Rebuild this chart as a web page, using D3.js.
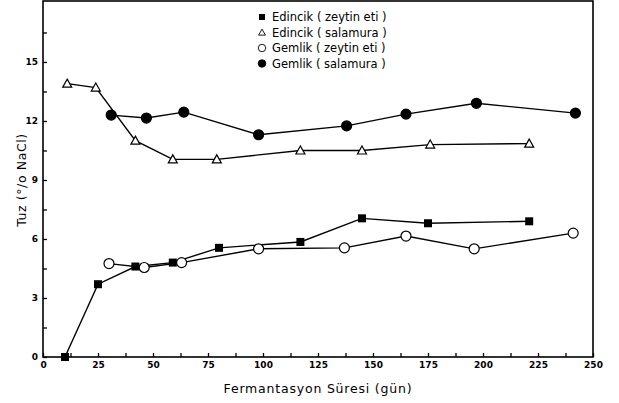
<!DOCTYPE html>
<html>
<head>
<meta charset="utf-8">
<script src="https://cdn.jsdelivr.net/npm/d3@7"></script>
<style>
  body { margin: 0; background: #fff; }
  text { font-family: "DejaVu Sans", sans-serif; fill: #000; }
  .tick text { font-size: 9px; font-weight: bold; }
</style>
</head>
<body>
<svg id="chart" width="619" height="403"></svg>
<script>
// Fermantasyon süresi (gün) ve tuz (% NaCl) degerleri
var edincikEtiDays = [10, 25, 42, 59, 80, 117, 145, 175, 221];
var edincikEtiTuz = [0, 3.7, 4.6, 4.8, 5.55, 5.85, 7.05, 6.8, 6.9];

var edincikSalDays = [11, 24, 42, 59, 79, 117, 145, 176, 221];
var edincikSalTuz = [13.9, 13.7, 11.0, 10.05, 10.05, 10.5, 10.5, 10.8, 10.85];

var gemlikEtiDays = [30, 46, 63, 98, 137, 165, 196, 241];
var gemlikEtiTuz = [4.75, 4.55, 4.8, 5.5, 5.55, 6.15, 5.5, 6.3];

var gemlikSalDays = [31, 47, 64, 98, 138, 165, 197, 242];
var gemlikSalTuz = [12.3, 12.15, 12.45, 11.3, 11.75, 12.35, 12.9, 12.4];

var seriesNames = ['Edincik ( zeytin eti )', 'Edincik ( salamura )', 'Gemlik ( zeytin eti )', 'Gemlik ( salamura )'];
var xTicks = [0, 25, 50, 75, 100, 125, 150, 175, 200, 225, 250];
var yTicks = [0, 3, 6, 9, 12, 15];

var series = [
  { name: seriesNames[0], days: edincikEtiDays, tuz: edincikEtiTuz, shape: 'square', filled: true },
  { name: seriesNames[1], days: edincikSalDays, tuz: edincikSalTuz, shape: 'triangle', filled: false },
  { name: seriesNames[2], days: gemlikEtiDays, tuz: gemlikEtiTuz, shape: 'circle', filled: false },
  { name: seriesNames[3], days: gemlikSalDays, tuz: gemlikSalTuz, shape: 'circle', filled: true }
];

var margin = { left: 43, right: 26, top: 1, bottom: 46 };
var width = 619 - margin.left - margin.right;
var height = 403 - margin.top - margin.bottom;

var svg = d3.select('#chart');
var g = svg.append('g').attr('transform', 'translate(' + margin.left + ',' + margin.top + ')');

var x = d3.scaleLinear().domain([0, 250]).range([0, width]);
var y = d3.scaleLinear().domain([0, 18.1]).range([height, 0]);

// frame
g.append('rect')
  .attr('width', width)
  .attr('height', height)
  .attr('fill', 'none')
  .attr('stroke', '#000')
  .attr('stroke-width', 1.6);

// minor ticks
g.append('g')
  .attr('transform', 'translate(0,' + height + ')')
  .call(d3.axisTop(x).tickValues(d3.range(0, 251, 12.5)).tickSize(4).tickFormat(''))
  .call(function (s) { s.select('.domain').remove(); s.selectAll('line').attr('stroke-width', 1.3); });

g.append('g')
  .call(d3.axisRight(y).tickValues(d3.range(0, 18, 1.5)).tickSize(4).tickFormat(''))
  .call(function (s) { s.select('.domain').remove(); s.selectAll('line').attr('stroke-width', 1.3); });

// tick labels
var xAxis = g.append('g')
  .attr('transform', 'translate(0,' + height + ')')
  .call(d3.axisBottom(x).tickValues(xTicks).tickSize(0).tickPadding(5));
xAxis.select('.domain').remove();

var yAxis = g.append('g')
  .call(d3.axisLeft(y).tickValues(yTicks).tickSize(0).tickPadding(5));
yAxis.select('.domain').remove();

// axis titles
svg.append('text')
  .attr('x', 318)
  .attr('y', 393)
  .attr('text-anchor', 'middle')
  .style('font-size', '12.5px')
  .style('letter-spacing', '0.8px')
  .text('Fermantasyon Süresi (gün)');

svg.append('text')
  .attr('transform', 'translate(26,180) rotate(-90)')
  .attr('text-anchor', 'middle')
  .style('font-size', '12.5px')
  .style('letter-spacing', '0.6px')
  .text('Tuz (°/o NaCl)');

function drawMarker(sel, s) {
  if (s.shape === 'square') {
    sel.append('rect')
      .attr('x', -4).attr('y', -4).attr('width', 8).attr('height', 8)
      .attr('fill', '#000');
  } else if (s.shape === 'triangle') {
    sel.append('path')
      .attr('d', 'M0,-4.5L4.5,3.5L-4.5,3.5Z')
      .attr('fill', '#fff').attr('stroke', '#000').attr('stroke-width', 1.2);
  } else {
    sel.append('circle')
      .attr('r', 5)
      .attr('fill', s.filled ? '#000' : '#fff')
      .attr('stroke', '#000').attr('stroke-width', 1.2);
  }
}

var line = d3.line()
  .x(function (d) { return x(d[0]); })
  .y(function (d) { return y(d[1]); });

series.forEach(function (s) {
  var pts = s.days.map(function (d, i) { return [d, s.tuz[i]]; });
  g.append('path')
    .datum(pts)
    .attr('d', line)
    .attr('fill', 'none')
    .attr('stroke', '#000')
    .attr('stroke-width', 1.4);
});

series.forEach(function (s) {
  var pts = s.days.map(function (d, i) { return [d, s.tuz[i]]; });
  g.selectAll(null)
    .data(pts)
    .enter().append('g')
    .attr('transform', function (d) { return 'translate(' + x(d[0]) + ',' + y(d[1]) + ')'; })
    .each(function () { drawMarker(d3.select(this), s); });
});

// legend
var legend = svg.append('g').attr('transform', 'translate(262,17)');
series.forEach(function (s, i) {
  var row = legend.append('g').attr('transform', 'translate(0,' + (i * 15.5) + ')');
  var m = row.append('g').attr('transform', 'scale(0.75)');
  drawMarker(m, s);
  row.append('text')
    .attr('x', 10)
    .attr('y', 4)
    .style('font-size', '11.5px')
    .text(s.name);
});
</script>
</body>
</html>
